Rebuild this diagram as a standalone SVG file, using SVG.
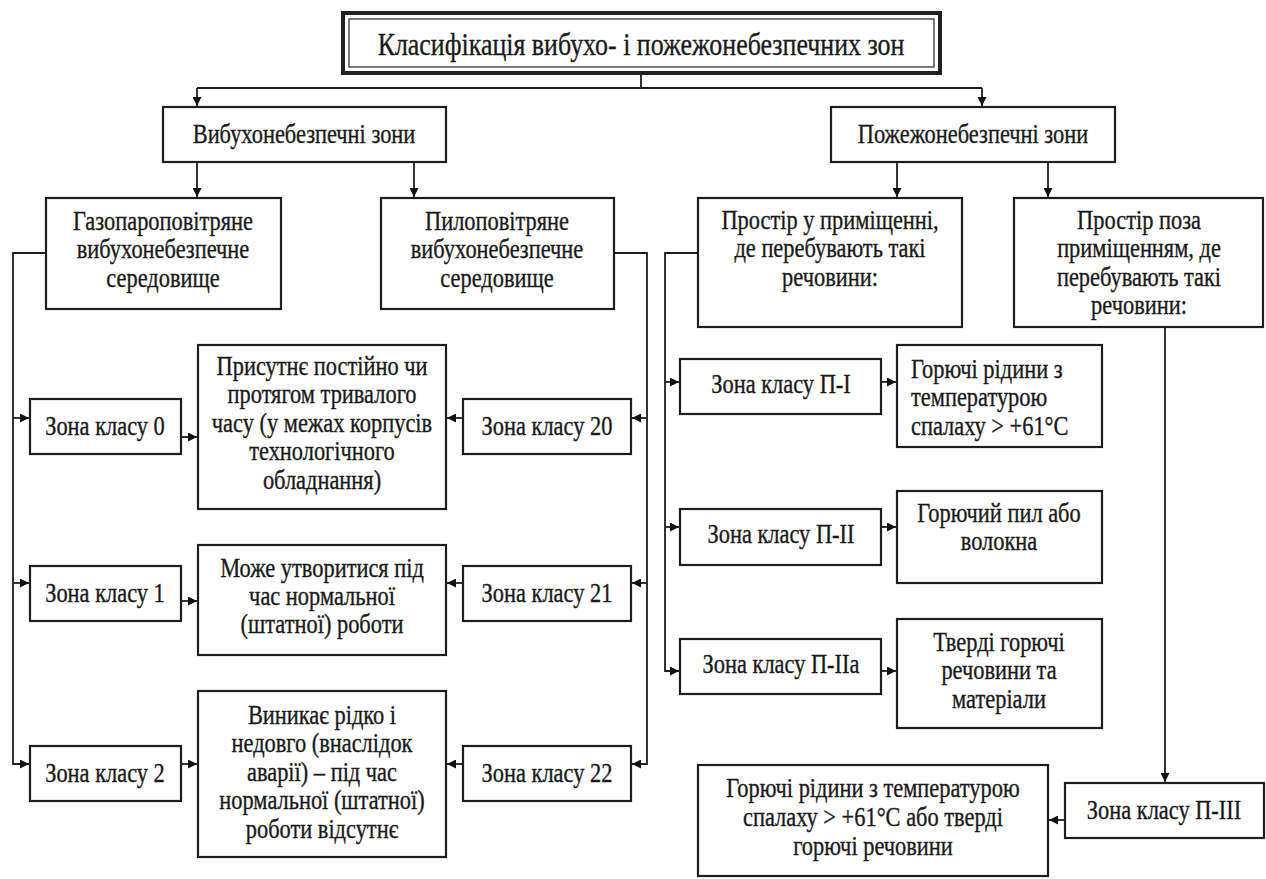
<svg xmlns="http://www.w3.org/2000/svg" width="1266" height="879" viewBox="0 0 1266 879">
<style>
.box{fill:#fff;stroke:#1e1e1e;stroke-width:2.2}
.ln{fill:none;stroke:#1e1e1e;stroke-width:1.8}
.arr{marker-end:url(#ah)}
text{font-family:"Liberation Serif","Times New Roman",serif;font-size:27px;fill:#1a1a1a;stroke:#1a1a1a;stroke-width:0.35}
.c{text-anchor:middle}
.t{font-size:32px}
</style>
<defs>
<marker id="ah" markerUnits="userSpaceOnUse" markerWidth="9" markerHeight="9" refX="9" refY="4.5" orient="auto">
<path d="M0,0 L9,4.5 L0,9 z" fill="#111" stroke="none"/>
</marker>
</defs>
<rect width="1266" height="879" fill="#fff"/>

<g id="connectors">
<path class="ln" d="M641,73 V88 M197,88 H982"/>
<path class="ln arr" d="M197,88 V106"/>
<path class="ln arr" d="M982,88 V106"/>
<path class="ln arr" d="M197,162 V197"/>
<path class="ln arr" d="M414,162 V197"/>
<path class="ln arr" d="M897,162 V197"/>
<path class="ln arr" d="M1048,162 V197"/>
<path class="ln arr" d="M46,253 H13 V764 H29"/>
<path class="ln arr" d="M13,418 H29"/>
<path class="ln arr" d="M13,583 H29"/>
<path class="ln arr" d="M181,437 H197"/>
<path class="ln arr" d="M181,601 H197"/>
<path class="ln arr" d="M181,764 H197"/>
<path class="ln arr" d="M614,253 H647 V764 H632"/>
<path class="ln arr" d="M647,418 H632"/>
<path class="ln arr" d="M647,583 H632"/>
<path class="ln arr" d="M463,418 H447"/>
<path class="ln arr" d="M463,583 H447"/>
<path class="ln arr" d="M463,764 H447"/>
<path class="ln arr" d="M698,253 H665 V671 H679"/>
<path class="ln arr" d="M665,382 H679"/>
<path class="ln arr" d="M665,527 H679"/>
<path class="ln arr" d="M881,382 H896"/>
<path class="ln arr" d="M881,527 H896"/>
<path class="ln arr" d="M881,671 H896"/>
<path class="ln arr" d="M1165,327 V782"/>
<path class="ln arr" d="M1065,820 H1049"/>
</g>

<g id="title">
<rect x="343" y="13" width="597" height="60" fill="#fff" stroke="#222" stroke-width="4"/>
<rect x="349" y="19" width="585" height="48" fill="none" stroke="#333" stroke-width="1.3"/>
<text class="c t" transform="translate(641,55) scale(0.81,1)">Класифікація вибухо- і пожежонебезпечних зон</text>
</g>

<g id="vybukh">
<rect class="box" x="163" y="107" width="283" height="55"/>
<text class="c" transform="translate(304,143) scale(0.83,1)">Вибухонебезпечні зони</text>
</g>
<g id="pozhezh">
<rect class="box" x="831" y="107" width="284" height="55"/>
<text class="c" transform="translate(973,143) scale(0.83,1)">Пожежонебезпечні зони</text>
</g>

<g id="gazo">
<rect class="box" x="46" y="198" width="235" height="111"/>
<text class="c" transform="translate(163,230) scale(0.83,1)"><tspan x="0" y="0">Газопароповітряне</tspan><tspan x="0" y="28.5">вибухонебезпечне</tspan><tspan x="0" y="57">середовище</tspan></text>
</g>
<g id="pylo">
<rect class="box" x="381" y="198" width="233" height="111"/>
<text class="c" transform="translate(497,230) scale(0.83,1)"><tspan x="0" y="0">Пилоповітряне</tspan><tspan x="0" y="28.5">вибухонебезпечне</tspan><tspan x="0" y="57">середовище</tspan></text>
</g>
<g id="prostir-u">
<rect class="box" x="698" y="198" width="264" height="129"/>
<text class="c" transform="translate(830,229) scale(0.83,1)"><tspan x="0" y="0">Простір у приміщенні,</tspan><tspan x="0" y="28.5">де перебувають такі</tspan><tspan x="0" y="57">речовини:</tspan></text>
</g>
<g id="prostir-poza">
<rect class="box" x="1014" y="198" width="249" height="129"/>
<text class="c" transform="translate(1139,229) scale(0.83,1)"><tspan x="0" y="0">Простір поза</tspan><tspan x="0" y="28.5">приміщенням, де</tspan><tspan x="0" y="57">перебувають такі</tspan><tspan x="0" y="85.5">речовини:</tspan></text>
</g>

<g id="zona0">
<rect class="box" x="30" y="399" width="151" height="55"/>
<text class="c" transform="translate(105,435) scale(0.83,1)">Зона класу 0</text>
</g>
<g id="zona1">
<rect class="box" x="30" y="566" width="151" height="55"/>
<text class="c" transform="translate(105,602) scale(0.83,1)">Зона класу 1</text>
</g>
<g id="zona2">
<rect class="box" x="30" y="746" width="151" height="55"/>
<text class="c" transform="translate(105,782) scale(0.83,1)">Зона класу 2</text>
</g>
<g id="zona20">
<rect class="box" x="463" y="399" width="168" height="55"/>
<text class="c" transform="translate(547,435) scale(0.83,1)">Зона класу 20</text>
</g>
<g id="zona21">
<rect class="box" x="463" y="566" width="168" height="55"/>
<text class="c" transform="translate(547,602) scale(0.83,1)">Зона класу 21</text>
</g>
<g id="zona22">
<rect class="box" x="463" y="746" width="168" height="55"/>
<text class="c" transform="translate(547,782) scale(0.83,1)">Зона класу 22</text>
</g>

<g id="desc0">
<rect class="box" x="198" y="345" width="248" height="164"/>
<text class="c" transform="translate(322,375) scale(0.83,1)"><tspan x="0" y="0">Присутнє постійно чи</tspan><tspan x="0" y="28.5">протягом тривалого</tspan><tspan x="0" y="57">часу (у межах корпусів</tspan><tspan x="0" y="85.5">технологічного</tspan><tspan x="0" y="114">обладнання)</tspan></text>
</g>
<g id="desc1">
<rect class="box" x="198" y="545" width="248" height="110"/>
<text class="c" transform="translate(322,577) scale(0.83,1)"><tspan x="0" y="0">Може утворитися під</tspan><tspan x="0" y="28">час нормальної</tspan><tspan x="0" y="56">(штатної) роботи</tspan></text>
</g>
<g id="desc2">
<rect class="box" x="198" y="691" width="248" height="166"/>
<text class="c" transform="translate(322,724) scale(0.83,1)"><tspan x="0" y="0">Виникає рідко і</tspan><tspan x="0" y="28.5">недовго (внаслідок</tspan><tspan x="0" y="57">аварії) – під час</tspan><tspan x="0" y="85.5">нормальної (штатної)</tspan><tspan x="0" y="114">роботи відсутнє</tspan></text>
</g>

<g id="zonaP1">
<rect class="box" x="680" y="359" width="201" height="55"/>
<text class="c" transform="translate(781,393) scale(0.83,1)">Зона класу П-I</text>
</g>
<g id="zonaP2">
<rect class="box" x="680" y="509" width="201" height="56"/>
<text class="c" transform="translate(781,543) scale(0.83,1)">Зона класу П-II</text>
</g>
<g id="zonaP2a">
<rect class="box" x="680" y="639" width="201" height="55"/>
<text class="c" transform="translate(781,673) scale(0.83,1)">Зона класу П-IIа</text>
</g>
<g id="descP1">
<rect class="box" x="897" y="345" width="205" height="102"/>
<text transform="translate(911,378) scale(0.83,1)"><tspan x="0" y="0">Горючі рідини з</tspan><tspan x="0" y="28.5">температурою</tspan><tspan x="0" y="57">спалаху &gt; +61°С</tspan></text>
</g>
<g id="descP2">
<rect class="box" x="897" y="491" width="205" height="92"/>
<text class="c" transform="translate(999,522) scale(0.83,1)"><tspan x="0" y="0">Горючий пил або</tspan><tspan x="0" y="28.5">волокна</tspan></text>
</g>
<g id="descP2a">
<rect class="box" x="897" y="619" width="205" height="109"/>
<text class="c" transform="translate(999,651) scale(0.83,1)"><tspan x="0" y="0">Тверді горючі</tspan><tspan x="0" y="28.5">речовини та</tspan><tspan x="0" y="57">матеріали</tspan></text>
</g>
<g id="zonaP3">
<rect class="box" x="1065" y="783" width="199" height="55"/>
<text class="c" transform="translate(1164,819) scale(0.83,1)">Зона класу П-III</text>
</g>
<g id="descP3">
<rect class="box" x="698" y="765" width="350" height="111"/>
<text class="c" transform="translate(873,797) scale(0.83,1)"><tspan x="0" y="0">Горючі рідини з температурою</tspan><tspan x="0" y="29">спалаху &gt; +61°С або тверді</tspan><tspan x="0" y="58">горючі речовини</tspan></text>
</g>
</svg>
